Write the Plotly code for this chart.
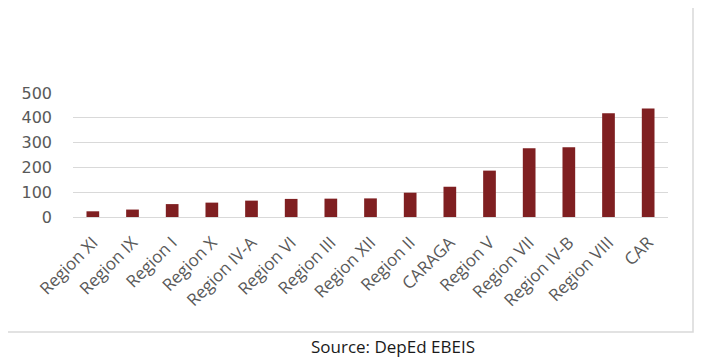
import plotly.graph_objects as go

regions = ["Region XI", "Region IX", "Region I", "Region X", "Region IV-A", "Region VI",
           "Region III", "Region XII", "Region II", "CARAGA", "Region V", "Region VII",
           "Region IV-B", "Region VIII", "CAR"]
values = [23, 30, 52, 58, 66, 73, 74, 75, 98, 122, 187, 277, 281, 418, 438]
y_ticks = [0, 100, 200, 300, 400, 500]
source_text = "Source: DepEd EBEIS"

OFF = 8  # page body margin
W, H = 702 - OFF, 361 - OFF
# plot area in page pixels: x 73..668, y 93..217
L, R, T, B = 73 - OFF, 702 - 668, 93 - OFF, 361 - 217
pw, ph = W - L - R, H - T - B

def px_x(x):
    return (x - OFF - L) / pw

def px_y(y):
    return (H - B - (y - OFF)) / ph

fig = go.Figure(go.Bar(x=regions, y=values, marker=dict(color="#7f1f21", line=dict(width=0))))

fig.update_layout(
    width=W, height=H,
    margin=dict(l=L, r=R, t=T, b=B, pad=0),
    paper_bgcolor="white", plot_bgcolor="white",
    bargap=0.68,
    showlegend=False,
    font=dict(family="Open Sans", color="#595959"),
    xaxis=dict(tickangle=-45, tickfont=dict(size=17, color="#595959", family="Open Sans"),
               showgrid=False, showline=False, ticks="outside", ticklen=8,
               tickcolor="rgba(0,0,0,0)", zeroline=False, automargin=False),
    yaxis=dict(range=[0, 500], tickvals=y_ticks,
               tickfont=dict(size=16, color="#595959", family="DejaVu Sans"),
               showgrid=True, gridcolor="#d9d9d9", gridwidth=1.3,
               zeroline=True, zerolinecolor="#d9d9d9", zerolinewidth=1.3,
               showline=False, ticklabelstandoff=20, automargin=False),
    shapes=[dict(type="rect", xref="paper", yref="paper",
                 x0=px_x(7), x1=px_x(693), y0=px_y(332), y1=px_y(6),
                 line=dict(color="#d9d9d9", width=1.5), fillcolor="rgba(0,0,0,0)", layer="below")],
    annotations=[dict(text=source_text, xref="paper", yref="paper",
                      x=px_x(393), y=px_y(346), xanchor="center", yanchor="middle",
                      showarrow=False, font=dict(size=17, color="#1a1a1a", family="Open Sans"))],
)

fig.write_html("out.html")
